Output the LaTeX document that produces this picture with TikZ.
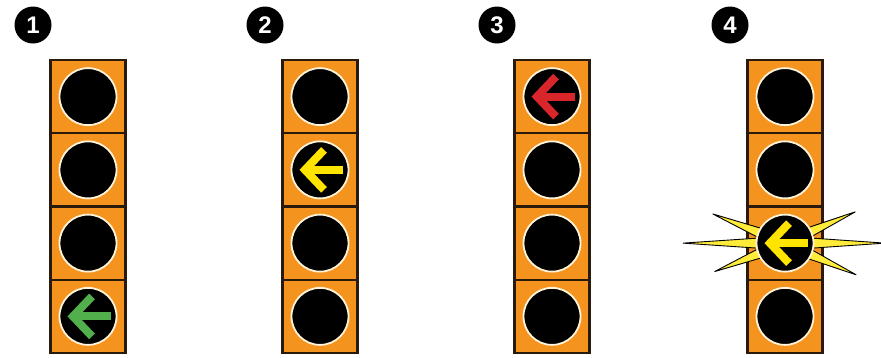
\documentclass[tikz,border=0pt]{standalone}
\usepackage{fontspec}
\setsansfont{Liberation Sans}
\usepackage{tikz}
\usetikzlibrary{positioning}
\usepackage{xcolor}
\definecolor{sighousing}{HTML}{F5931F}
\definecolor{sigframe}{HTML}{2A1A0C}
\definecolor{sigring}{HTML}{FFF3DA}
\definecolor{arrgreen}{HTML}{52B04C}
\definecolor{arryellow}{HTML}{FFE400}
\definecolor{arrred}{HTML}{D9262B}
\definecolor{rayyellow}{HTML}{FFEC3A}

\begin{document}
\begin{tikzpicture}[x=1pt,y=-1pt,
  cell/.style={draw=sigframe,line width=2.2pt,fill=sighousing,minimum width=75pt,
               minimum height=73.25pt,inner sep=0pt,outer sep=0pt},
  lamp/.style={circle,fill=black,draw=sigring,line width=1.8pt,minimum size=57pt,
               inner sep=0pt},
  badge/.style={circle,fill=black,text=white,minimum size=37pt,inner sep=0pt,
                font=\sffamily\bfseries\fontsize{24}{24}\selectfont},
  turn/.style={line width=8pt,line cap=butt,line join=miter},
  ray/.style={fill=rayyellow,draw=black,line width=0.9pt,line join=miter}]
\useasboundingbox (0,0) rectangle (881,357);
\foreach \s/\x in {1/88,2/320,3/552,4/785}{
  \node[badge] (n\s) at (\x-55,25) {\s};
  \foreach \c in {1,...,4}
    \node[cell] (s\s-\c) at (\x,{60+73.25*(\c-0.5)}) {};
}
\foreach \a/\r in {180/102,158/78,202/76,0/100,24/77,336/78}
  \draw[ray,shift={(s4-3.center)},rotate=\a] (\r,0) -- (20,5.5) -- (20,-5.5) -- cycle;
\foreach \s in {1,...,4}
  \foreach \c in {1,...,4}
    \node[lamp] (l\s-\c) at (s\s-\c) {};
\draw[turn,arrgreen,shift={(l1-4.center)}] (23,0) -- (-15,0);
\draw[turn,arrgreen,shift={(l1-4.center)}] (4,-20) -- (-15,0) -- (4,20);
\draw[turn,arryellow,shift={(l2-2.center)}] (23,0) -- (-15,0);
\draw[turn,arryellow,shift={(l2-2.center)}] (4,-20) -- (-15,0) -- (4,20);
\draw[turn,arrred,shift={(l3-1.center)}] (23,0) -- (-15,0);
\draw[turn,arrred,shift={(l3-1.center)}] (4,-20) -- (-15,0) -- (4,20);
\draw[turn,arryellow,shift={(l4-3.center)}] (23,0) -- (-15,0);
\draw[turn,arryellow,shift={(l4-3.center)}] (4,-20) -- (-15,0) -- (4,20);
\end{tikzpicture}
\end{document}
